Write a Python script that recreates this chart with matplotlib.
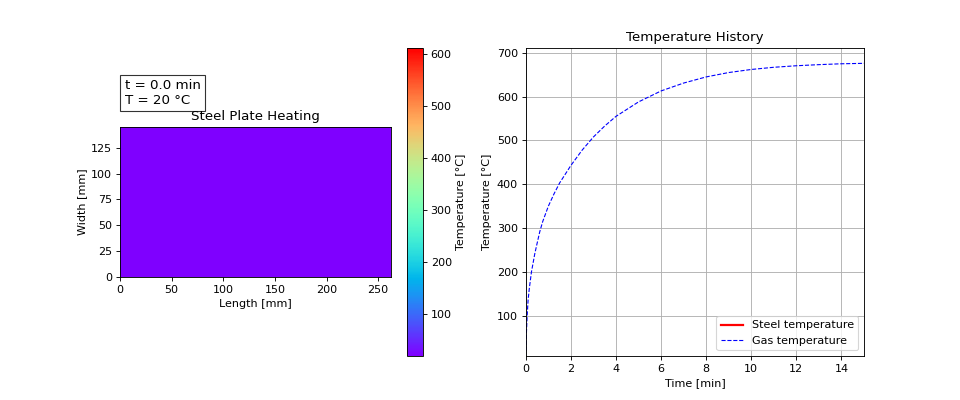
import numpy as np
import matplotlib
matplotlib.use("Agg")
import matplotlib.pyplot as plt

# plate size [mm] and current state
plate_length = 262
plate_width = 145
t_now = 0.0
T_plate = 20
T_min, T_max = 20, 612

# gas temperature history
time_gas = [0.0, 0.03, 0.06, 0.1, 0.15, 0.25, 0.4, 0.5, 0.62, 0.75, 1.0, 1.25, 1.5, 2.0, 2.5,
            3.0, 3.5, 4.0, 5.0, 6.0, 7.0, 8.0, 9.0, 10.0, 11.0, 12.0, 13.0, 14.0, 15.0]
temp_gas = [20, 65, 100, 135, 160, 200, 242, 265, 292, 315, 350, 378, 403, 443, 478,
            508, 533, 555, 588, 613, 631, 645, 655, 662, 667, 670.5, 673, 675, 676]

# steel temperature (only the first step so far)
time_steel = [0.0]
temp_steel = [20]

fig, (ax1, ax2) = plt.subplots(1, 2, figsize=(12, 5), dpi=80)

# levo: teplotni pole desky
pole = np.full((10, 18), T_plate, dtype=float)
im = ax1.imshow(pole, cmap="rainbow", origin="lower", vmin=T_min, vmax=T_max,
                extent=[0, plate_length, 0, plate_width], aspect="equal")
ax1.set_xlabel("Length [mm]")
ax1.set_ylabel("Width [mm]")
ax1.set_title("Steel Plate Heating")
cbar = fig.colorbar(im, ax=ax1)
cbar.set_label("Temperature [°C]")
ax1.text(0.018, 1.135, f"t = {t_now:.1f} min\nT = {T_plate:.0f} °C", transform=ax1.transAxes,
         fontsize=12, va="bottom", ha="left",
         bbox=dict(facecolor="white", alpha=0.8))

# pravo: historie teplot
ax2.plot(time_steel, temp_steel, "r-", linewidth=2, label="Steel temperature")
ax2.plot(time_gas, temp_gas, "b--", linewidth=1, label="Gas temperature")
ax2.set_xlim(0, 15)
ax2.set_ylim(8, 711)
ax2.set_xlabel("Time [min]")
ax2.set_ylabel("Temperature [°C]")
ax2.set_title("Temperature History")
ax2.grid(True)
ax2.legend(loc="lower right")

fig.savefig("out.png")
